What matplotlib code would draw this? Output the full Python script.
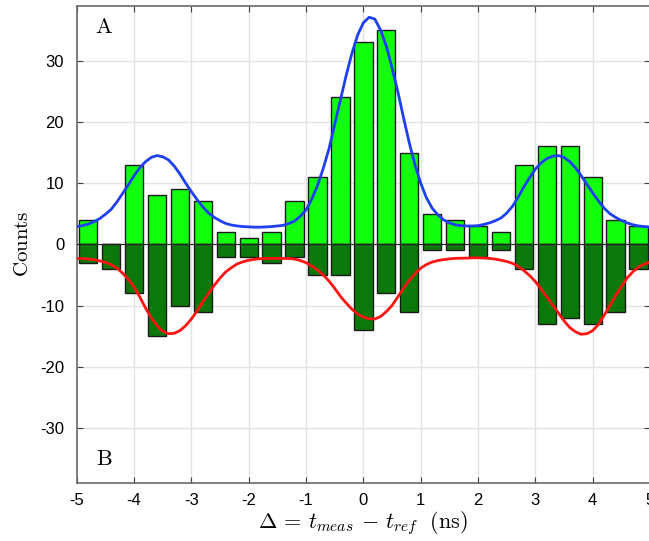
import matplotlib
matplotlib.use("Agg")
import matplotlib.pyplot as plt

# ---- data ----
bin_centers = [-4.8, -4.4, -4.0, -3.6, -3.2, -2.8, -2.4, -2.0, -1.6, -1.2, -0.8, -0.4,
               0.0, 0.4, 0.8, 1.2, 1.6, 2.0, 2.4, 2.8, 3.2, 3.6, 4.0, 4.4, 4.8]
counts_A = [4, 0, 13, 8, 9, 7, 2, 1, 2, 7, 11, 24, 33, 35, 15, 5, 4, 3, 2, 13, 16, 16, 11, 4, 3]
counts_B = [-3, -4, -8, -15, -10, -11, -2, -2, -3, -2, -5, -5, -14, -8, -11, -1, -1, -2, -1,
            -4, -13, -12, -13, -11, -4]

fit_x = [-5.0, -4.9, -4.8, -4.7, -4.6, -4.5, -4.4, -4.3, -4.2, -4.1,
         -4.0, -3.9, -3.8, -3.7, -3.6, -3.5, -3.4, -3.3, -3.2, -3.1,
         -3.0, -2.9, -2.8, -2.7, -2.6, -2.5, -2.4, -2.3, -2.2, -2.1,
         -2.0, -1.9, -1.8, -1.7, -1.6, -1.5, -1.4, -1.3, -1.2, -1.1,
         -1.0, -0.9, -0.8, -0.7, -0.6, -0.5, -0.4, -0.3, -0.2, -0.1,
         0.0, 0.1, 0.2, 0.3, 0.4, 0.5, 0.6, 0.7, 0.8, 0.9,
         1.0, 1.1, 1.2, 1.3, 1.4, 1.5, 1.6, 1.7, 1.8, 1.9,
         2.0, 2.1, 2.2, 2.3, 2.4, 2.5, 2.6, 2.7, 2.8, 2.9,
         3.0, 3.1, 3.2, 3.3, 3.4, 3.5, 3.6, 3.7, 3.8, 3.9,
         4.0, 4.1, 4.2, 4.3, 4.4, 4.5, 4.6, 4.7, 4.8, 4.9,
         5.0]
fit_A = [2.9, 3.05, 3.3, 3.7, 4.2, 4.9, 5.7, 6.9, 8.3, 9.7,
         11.2, 12.5, 13.5, 14.2, 14.5, 14.3, 13.8, 12.8, 11.5, 10.0,
         8.6, 7.3, 6.1, 5.1, 4.4, 3.85, 3.4, 3.15, 3.0, 2.9,
         2.85, 2.8, 2.8, 2.85, 2.9, 3.0, 3.1, 3.4, 3.8, 4.6,
         5.6, 7.4, 9.6, 12.4, 15.6, 19.6, 23.6, 27.6, 31.2, 34.2,
         36.2, 37.1, 36.8, 35.0, 32.4, 28.8, 25.0, 20.7, 16.6, 13.0,
         10.0, 7.6, 5.9, 4.8, 4.0, 3.5, 3.2, 3.05, 3.0, 3.0,
         3.05, 3.25, 3.5, 3.85, 4.3, 5.1, 6.2, 7.7, 9.4, 10.9,
         12.3, 13.3, 14.0, 14.4, 14.5, 14.2, 13.5, 12.5, 11.2, 9.8,
         8.4, 7.1, 5.9, 5.0, 4.4, 3.9, 3.5, 3.2, 3.0, 2.9,
         2.8]
fit_B = [-2.3, -2.33, -2.4, -2.5, -2.7, -2.95, -3.3, -3.9, -4.7, -5.7,
         -7.0, -8.6, -10.4, -12.0, -13.3, -14.2, -14.6, -14.55, -14.1, -13.3,
         -12.2, -10.9, -9.4, -8.0, -6.7, -5.5, -4.5, -3.8, -3.2, -2.85,
         -2.6, -2.45, -2.35, -2.3, -2.3, -2.3, -2.3, -2.33, -2.4, -2.65,
         -3.0, -3.55, -4.2, -5.0, -6.0, -7.2, -8.5, -9.6, -10.6, -11.4,
         -11.9, -12.15, -12.2, -11.8, -11.0, -10.0, -8.6, -7.2, -5.9, -4.8,
         -3.9, -3.3, -2.9, -2.65, -2.5, -2.38, -2.3, -2.27, -2.25, -2.22,
         -2.2, -2.24, -2.3, -2.42, -2.6, -2.8, -3.1, -3.6, -4.3, -5.1,
         -6.1, -7.3, -8.6, -9.9, -11.2, -12.5, -13.6, -14.3, -14.7, -14.6,
         -14.1, -13.1, -11.6, -10.0, -8.4, -6.9, -5.5, -4.5, -3.7, -3.25,
         -2.9]

xticks = [-5, -4, -3, -2, -1, 0, 1, 2, 3, 4, 5]
yticks = [-30, -20, -10, 0, 10, 20, 30]

plt.rcParams['mathtext.fontset'] = 'cm'

fig = plt.figure(figsize=(6.49, 5.41), dpi=100)
ax = fig.add_axes([0.1182, 0.1072, 0.8834, 0.8824])

ax.bar(bin_centers, counts_A, width=0.32, color='#12ff0e', edgecolor='#1a1a1a', linewidth=1.0, zorder=2)
ax.bar(bin_centers, counts_B, width=0.32, color='#0a780a', edgecolor='#1a1a1a', linewidth=1.0, zorder=2)
ax.axhline(0, color='#222222', linewidth=0.8, zorder=3)
ax.plot(fit_x, fit_A, color='#1f3ff2', linewidth=2.0, zorder=4, solid_joinstyle='round')
ax.plot(fit_x, fit_B, color='#ff1414', linewidth=2.0, zorder=4, solid_joinstyle='round')

ax.set_xlim(-5, 5)
ax.set_ylim(-39, 39)
ax.set_xticks(xticks)
ax.set_yticks(yticks)
ax.set_xticklabels([str(t) for t in xticks], family='Liberation Sans', fontsize=12)
ax.set_yticklabels([str(t) for t in yticks], family='Liberation Sans', fontsize=12)
ax.tick_params(direction='in', top=True, right=True, length=4, width=0.8, color='#404040')
ax.tick_params(axis='x', pad=7)
ax.tick_params(axis='y', pad=9)
ax.grid(True, color='#e3e3e3', linewidth=1.0, zorder=0)
ax.set_axisbelow(True)
for s in ax.spines.values():
    s.set_color('#6a6a6a')
    s.set_linewidth(1.2)

ax.set_ylabel(r'$\mathrm{Counts}$', fontsize=15, labelpad=6)
ax.set_xlabel(r'$\Delta \,=\, t_{meas} \,-\, t_{ref}\ \ (\mathrm{ns})$', fontsize=16, labelpad=1)

ax.text(-4.52, 35.5, r'$\mathrm{A}$', fontsize=16, ha='center', va='center')
ax.text(-4.52, -35.1, r'$\mathrm{B}$', fontsize=16, ha='center', va='center')

fig.savefig('out.png', dpi=100)
